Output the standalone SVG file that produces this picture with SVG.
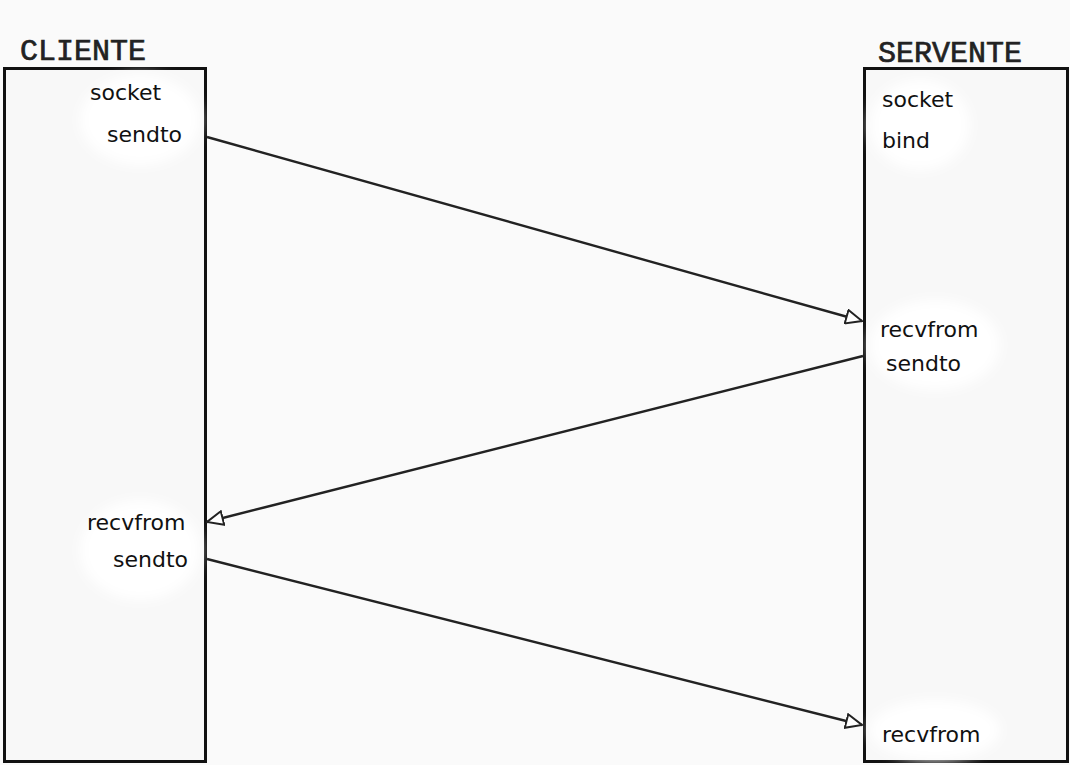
<svg xmlns="http://www.w3.org/2000/svg" width="1070" height="765" viewBox="0 0 1070 765">
<defs>
<marker id="arr" markerWidth="18" markerHeight="16" refX="17" refY="8" orient="auto" markerUnits="userSpaceOnUse">
<path d="M1,1 L17,8 L1,15 Z" fill="#ffffff" stroke="#222" stroke-width="2"/>
</marker>
<filter id="blur" x="-30%" y="-30%" width="160%" height="160%"><feGaussianBlur stdDeviation="6"/></filter>
</defs>
<style>
.box{fill:#f8f8f8;stroke:#111;stroke-width:3}
.title{font-family:"Liberation Mono","Courier New",monospace;font-size:30px;font-weight:normal;fill:#222;stroke:#222;stroke-width:0.7}
.lbl{font-family:"DejaVu Sans","Noto Sans",sans-serif;font-size:22px;fill:#111}
.blob{fill:#ffffff;filter:url(#blur)}
.conn{stroke:#222;stroke-width:2.4;fill:none}
</style>
<rect width="1070" height="765" fill="#fafafa"/>
<g id="cliente">
<text class="title" x="20" y="60">CLIENTE</text>
<rect class="box" x="4.5" y="68.5" width="201" height="693"/>
<ellipse class="blob" cx="140" cy="120" rx="60" ry="45"/>
<ellipse class="blob" cx="140" cy="550" rx="60" ry="50"/>
<text class="lbl" x="90" y="100">socket</text>
<text class="lbl" x="107" y="142">sendto</text>
<text class="lbl" x="87" y="530">recvfrom</text>
<text class="lbl" x="113" y="567">sendto</text>
</g>
<g id="servente">
<text class="title" x="878" y="62">SERVENTE</text>
<rect class="box" x="864.5" y="68.5" width="203" height="693"/>
<ellipse class="blob" cx="920" cy="125" rx="50" ry="45"/>
<ellipse class="blob" cx="935" cy="345" rx="65" ry="45"/>
<ellipse class="blob" cx="935" cy="730" rx="65" ry="30"/>
<text class="lbl" x="882" y="107">socket</text>
<text class="lbl" x="882" y="148">bind</text>
<text class="lbl" x="880" y="337">recvfrom</text>
<text class="lbl" x="886" y="371">sendto</text>
<text class="lbl" x="882" y="742">recvfrom</text>
</g>
<g id="connectors">
<line class="conn" x1="207" y1="137" x2="862" y2="321" marker-end="url(#arr)"/>
<line class="conn" x1="863" y1="356" x2="207" y2="522" marker-end="url(#arr)"/>
<line class="conn" x1="207" y1="559" x2="862" y2="725" marker-end="url(#arr)"/>
</g>
</svg>
